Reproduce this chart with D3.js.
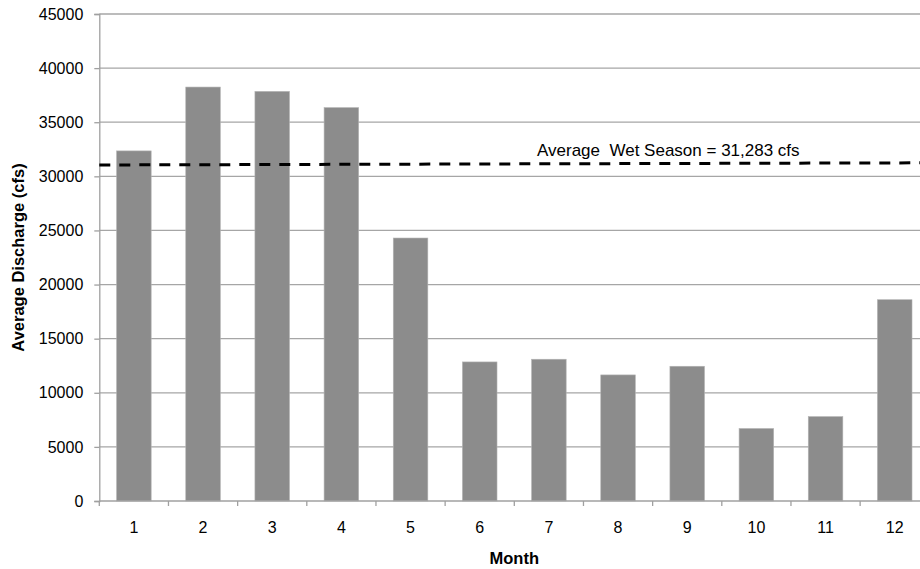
<!DOCTYPE html>
<html>
<head>
<meta charset="utf-8">
<script src="https://cdn.jsdelivr.net/npm/d3@7"></script>
<style>
  html, body { margin: 0; padding: 0; background: #fff; overflow: hidden; }
  text { font-family: "Liberation Sans", Arial, sans-serif; fill: #000; }
</style>
</head>
<body>
<div id="chart"></div>
<script>
// Monthly average discharge (cfs)
const months = ['1', '2', '3', '4', '5', '6', '7', '8', '9', '10', '11', '12'];
const discharge = [32350, 38250, 37850, 36350, 24300, 12850, 13100, 11650, 12450, 6700, 7800, 18600];
const yTicks = [0, 5000, 10000, 15000, 20000, 25000, 30000, 35000, 40000, 45000];
// Wet season average reference line, value at left and right edge as drawn
const wetAvg = [31050, 31250];
const wetLabel = 'Average  Wet Season = 31,283 cfs';

const width = 920;
const height = 569;
const margin = { top: 14, left: 99.3, bottom: 68 };
const plotRight = margin.left + 830;   // plot runs past the window edge

const svg = d3.select('#chart')
    .append('svg')
    .attr('width', width)
    .attr('height', height);

const x = d3.scaleBand()
    .domain(months)
    .range([margin.left, plotRight])
    .paddingInner(0.5)
    .paddingOuter(0.25);

const y = d3.scaleLinear()
    .domain([0, 45000])
    .range([height - margin.bottom, margin.top]);

// Gridlines
svg.append('g')
    .selectAll('line')
    .data(yTicks.filter(d => d > 0))
    .join('line')
    .attr('x1', margin.left)
    .attr('x2', plotRight)
    .attr('y1', d => y(d))
    .attr('y2', d => y(d))
    .attr('stroke', '#a6a6a6')
    .attr('stroke-width', 1.3);

// Bars
svg.append('g')
    .selectAll('rect')
    .data(discharge)
    .join('rect')
    .attr('x', (d, i) => x(months[i]))
    .attr('y', d => y(d))
    .attr('width', x.bandwidth())
    .attr('height', d => y(0) - y(d))
    .attr('fill', '#8c8c8c')
    .attr('stroke', '#b4b4b4')
    .attr('stroke-width', 0.6);

// Y axis
const yAxis = svg.append('g')
    .attr('transform', `translate(${margin.left},0)`)
    .call(d3.axisLeft(y).tickValues(yTicks).tickSize(5).tickPadding(11).tickFormat(d3.format('d')));
yAxis.select('.domain').attr('stroke', '#a0a0a0').attr('stroke-width', 1.3);
yAxis.selectAll('.tick line').attr('stroke', '#a0a0a0').attr('stroke-width', 1.3);
yAxis.selectAll('text').attr('font-size', 16).attr('font-family', '"Liberation Sans", Arial, sans-serif').attr('fill', '#000');

// X axis: ticks at band boundaries
const xAxis = svg.append('g')
    .attr('transform', `translate(0,${y(0)})`);
xAxis.append('line')
    .attr('x1', margin.left)
    .attr('x2', plotRight)
    .attr('stroke', '#a0a0a0')
    .attr('stroke-width', 1.3);
const step = x.step();
xAxis.selectAll('.xtick')
    .data(d3.range(months.length + 1))
    .join('line')
    .attr('class', 'xtick')
    .attr('x1', i => margin.left + i * step)
    .attr('x2', i => margin.left + i * step)
    .attr('y1', 0)
    .attr('y2', 5)
    .attr('stroke', '#a0a0a0')
    .attr('stroke-width', 1.3);
xAxis.selectAll('.xlabel')
    .data(months)
    .join('text')
    .attr('class', 'xlabel')
    .attr('x', d => x(d) + x.bandwidth() / 2)
    .attr('y', 32)
    .attr('text-anchor', 'middle')
    .attr('font-size', 16)
    .text(d => d);

// Wet season average line
svg.append('line')
    .attr('x1', margin.left)
    .attr('x2', plotRight)
    .attr('y1', y(wetAvg[0]))
    .attr('y2', y(wetAvg[1]))
    .attr('stroke', '#000')
    .attr('stroke-width', 3)
    .attr('stroke-dasharray', '11,9');

svg.append('text')
    .attr('x', 537)
    .attr('y', 155.5)
    .attr('font-size', 17)
    .attr('xml:space', 'preserve')
    .style('white-space', 'pre')
    .text(wetLabel);

// Axis titles
svg.append('text')
    .attr('transform', `translate(24,${(margin.top + y(0)) / 2}) rotate(-90)`)
    .attr('text-anchor', 'middle')
    .attr('font-size', 16.5)
    .attr('font-weight', 'bold')
    .text('Average Discharge (cfs)');

svg.append('text')
    .attr('x', (margin.left + plotRight) / 2)
    .attr('y', 564)
    .attr('text-anchor', 'middle')
    .attr('font-size', 16.5)
    .attr('font-weight', 'bold')
    .text('Month');
</script>
</body>
</html>
